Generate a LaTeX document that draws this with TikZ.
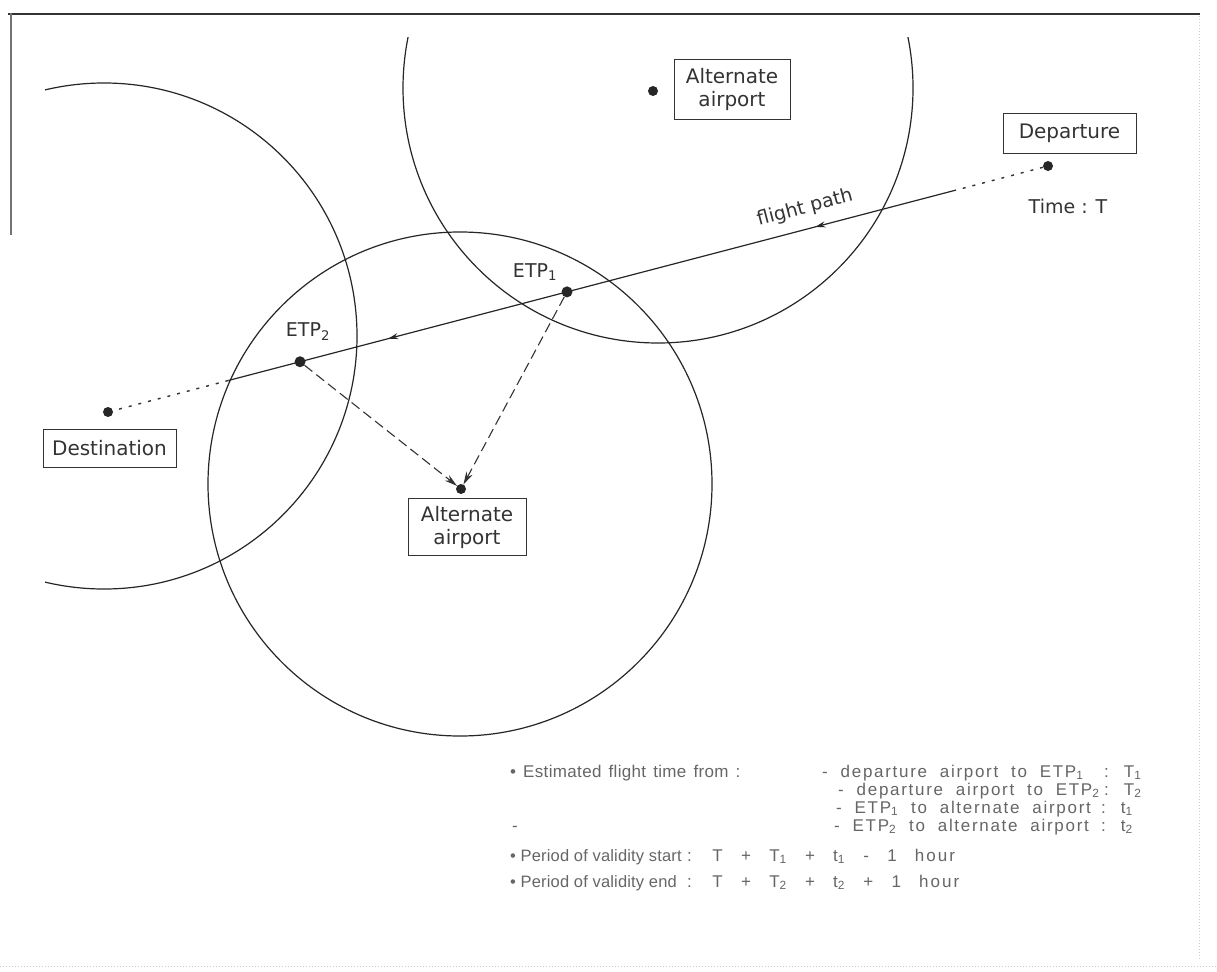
\documentclass[tikz,border=0pt]{standalone}
\usepackage{fontspec}
\setmainfont{DejaVu Sans}
\newfontfamily\notefont[LetterSpace=2, WordSpace=1.4]{Liberation Sans}
\newfontfamily\plainnotefont[LetterSpace=1]{Liberation Sans}
\newfontfamily\widefont[LetterSpace=10, WordSpace=2.0]{Liberation Sans}
\newfontfamily\formfont[LetterSpace=12, WordSpace=2.7]{Liberation Sans}
\usetikzlibrary{arrows.meta,decorations.markings,calc}
\begin{document}
\begin{tikzpicture}[x=1pt,y=-1pt,
  circ/.style={draw=black!85, line width=1.2pt},
  dot/.style={circle, fill=black!85, inner sep=0pt, minimum size=10pt},
  labelbox/.style={draw=black!80, line width=1pt, text=black!80, font=\fontsize{20}{23}\selectfont, align=center, inner sep=0pt},
  lbl/.style={text=black!80, font=\fontsize{19}{22}\selectfont, inner sep=0pt},
  note/.style={text=black!60, font=\notefont\fontsize{17}{20}\selectfont, inner sep=0pt, anchor=base west},
  plainnote/.style={text=black!60, font=\plainnotefont\fontsize{16.5}{19}\selectfont, inner sep=0pt, anchor=base west},
  widenote/.style={text=black!60, font=\widefont\fontsize{17}{20}\selectfont, inner sep=0pt, anchor=base west},
  formnote/.style={text=black!60, font=\formfont\fontsize{17}{20}\selectfont, inner sep=0pt, anchor=base west},
  route/.style={line width=1.2pt, draw=black!85},
  dotroute/.style={line width=1.4pt, draw=black!80, dash pattern=on 3pt off 7pt},
  divert/.style={line width=1.1pt, draw=black!80, dash pattern=on 10pt off 5pt, -{Stealth[length=13pt,width=7pt]}, shorten >=5pt},
  midarrow/.style={decoration={markings, mark=at position #1 with {\arrow{Stealth[length=10pt,width=6pt]}}}, postaction=decorate},
]
\useasboundingbox (0,0) rectangle (1217,971);
\fill[white] (0,0) rectangle (1217,971);

% frame remnants
\draw[black!80, line width=1.3pt] (8,14) -- (1200,14);
\draw[black!55, line width=1.2pt] (11,13) -- (11,235);
\draw[black!20, line width=1pt, dotted] (1199,16) -- (1199,960);
\draw[black!20, line width=1pt, dotted] (0,966) -- (1217,966);

% circles
\begin{scope}
  \clip (45,38) rectangle (1217,971);
  \draw[circ] (658,88) circle[radius=255pt];
  \draw[circ] (104,336) circle[radius=253pt];
  \draw[circ] (460,484) circle[radius=252pt];
\end{scope}

% points
\node[dot] (depdot) at (1048,166) {};
\node[dot] (destdot) at (108,412) {};
\node[dot] (alt1dot) at (653,91) {};
\node[dot] (alt2dot) at (461,489) {};
\node[dot, minimum size=11pt] (etp1) at ($(depdot)!0.5117!(destdot)$) {};
\node[dot, minimum size=11pt] (etp2) at ($(depdot)!0.7957!(destdot)$) {};
\coordinate (s1) at ($(depdot)!0.099!(destdot)$);
\coordinate (s2) at ($(depdot)!0.872!(destdot)$);

% flight path
\draw[dotroute] (depdot) -- (s1);
\draw[route, midarrow=0.36] (s1) -- (etp1.center);
\draw[route, midarrow=0.67] (etp1.center) -- (etp2.center);
\draw[route] (etp2.center) -- (s2);
\draw[dotroute] (s2) -- (destdot);

% diversions
\draw[divert] (etp2) -- (alt2dot.center);
\draw[divert] (etp1) -- (alt2dot.center);

% labels
\node[labelbox, minimum width=133pt, minimum height=40pt] (depbox) at (1069.5,133.5) {Departure};
\node[lbl] (time) at (1068,206) {Time : T};
\node[labelbox, minimum width=133pt, minimum height=38pt] (destbox) at (109.5,448) {Destination};
\node[labelbox, minimum width=116pt, minimum height=60pt] (alt1box) at (732,89.5) {Alternate\\airport};
\node[labelbox, minimum width=118pt, minimum height=57pt] (alt2box) at (467,527) {Alternate\\airport};
\node[lbl] (etp1lbl) at (535,272) {ETP\textsubscript{1}};
\node[lbl] (etp2lbl) at (308,332) {ETP\textsubscript{2}};
\node[lbl, rotate=14.8] (fp) at (805,208) {flight path};

% notes
\node[note] (n1) at (510,777) {• Estimated flight time from :};
\node[widenote] (n1a) at (822,777) {- departure airport to ETP\textsubscript{1}};
\node[widenote] (n1b) at (1104,777) {: T\textsubscript{1}};
\node[widenote] (n2a) at (838,795) {- departure airport to ETP\textsubscript{2}};
\node[widenote] (n2b) at (1104,795) {: T\textsubscript{2}};
\node[widenote] (n3a) at (836,813) {- ETP\textsubscript{1} to alternate airport};
\node[widenote] (n3b) at (1101,813) {: t\textsubscript{1}};
\node[widenote] (n4a) at (834,831) {- ETP\textsubscript{2} to alternate airport};
\node[widenote] (n4b) at (1101,831) {: t\textsubscript{2}};
\node[note] (n4x) at (512,831) {-};
\node[plainnote] (n5a) at (510,861) {• Period of validity start};
\node[formnote] (n5b) at (687,861) {: T + T\textsubscript{1} + t\textsubscript{1} - 1 hour};
\node[plainnote] (n6a) at (510,887) {• Period of validity end};
\node[formnote] (n6b) at (687,887) {: T + T\textsubscript{2} + t\textsubscript{2} + 1 hour};
\end{tikzpicture}
\end{document}
